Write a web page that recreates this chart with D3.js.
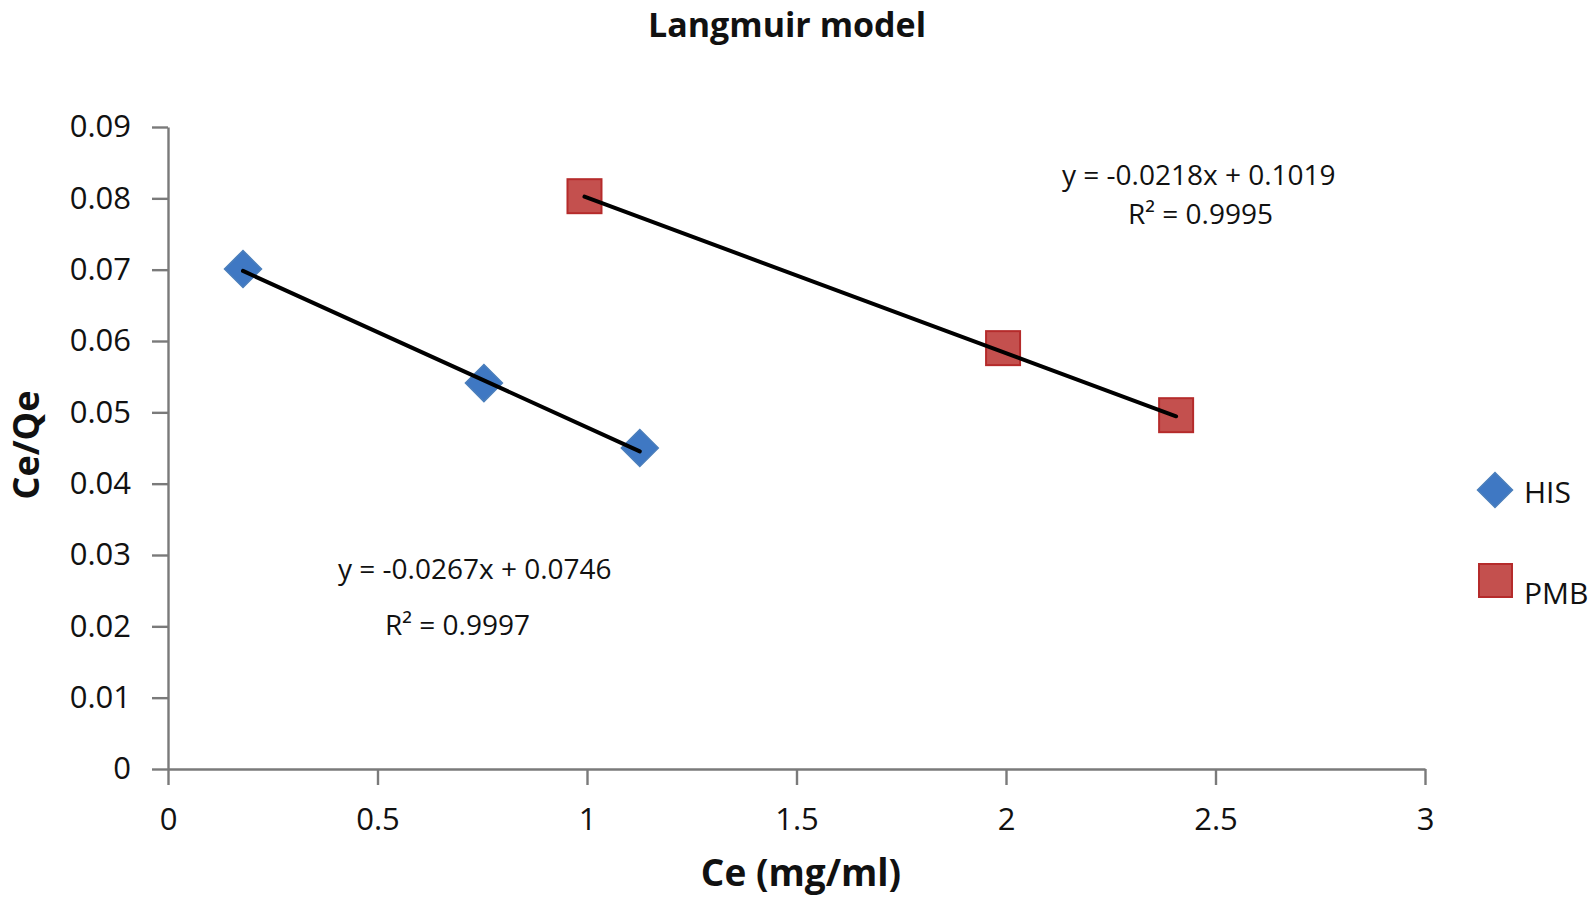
<!DOCTYPE html>
<html><head><meta charset="utf-8">
<script src="https://cdn.jsdelivr.net/npm/d3@7"></script>
<style>
html,body{margin:0;padding:0;background:#fff;}
svg{display:block;}
text{font-family:"Open Sans",sans-serif;fill:#111;}
</style></head>
<body>
<svg id="c" width="1594" height="900"></svg>
<script>
// ---- data ----
const seriesNames = ["HIS", "PMB"];
const hisX = [0.179, 0.754, 1.126];
const hisY = [0.0701, 0.0541, 0.0450];
const pmbX = [0.994, 1.993, 2.406];
const pmbY = [0.0803, 0.0590, 0.0496];
const fitSlopes = [-0.0267, -0.0218];
const fitIntercepts = [0.0746, 0.1019];
const fitEquations = ["y = -0.0267x + 0.0746", "y = -0.0218x + 0.1019"];
const fitR2 = ["R² = 0.9997", "R² = 0.9995"];
const xTicks = [0, 0.5, 1, 1.5, 2, 2.5, 3];
const yTicks = [0, 0.01, 0.02, 0.03, 0.04, 0.05, 0.06, 0.07, 0.08, 0.09];
const titleText = "Langmuir model";
const xTitle = "Ce (mg/ml)";
const yTitle = "Ce/Qe";

// ---- layout ----
const svg = d3.select("#c");
const x = d3.scaleLinear().domain([0, 3]).range([168, 1425]);
const y = d3.scaleLinear().domain([0, 0.09]).range([769, 127]);
const axisColor = "#7a7a7a";

svg.append("text").attr("x", 787).attr("y", 37).attr("text-anchor", "middle")
  .style("font-weight", "700").style("font-size", "34px").text(titleText);

const xAxis = d3.axisBottom(x).tickValues(xTicks).tickSize(16).tickSizeOuter(0).tickPadding(19)
  .tickFormat(d => d3.format("")(d));
const yAxis = d3.axisLeft(y).tickValues(yTicks).tickSize(16).tickSizeOuter(0).tickPadding(21)
  .tickFormat(d => d === 0 ? "0" : d3.format(".2f")(d));

const gx = svg.append("g").attr("transform", `translate(0,${y(0)})`).call(xAxis);
const gy = svg.append("g").attr("transform", `translate(${x(0)},0)`).call(yAxis);
[gx, gy].forEach(g => {
  g.selectAll("path.domain").attr("stroke", axisColor).attr("stroke-width", 2.4);
  g.selectAll(".tick line").attr("stroke", axisColor).attr("stroke-width", 2.4);
  g.selectAll(".tick text").style("font-family", "'Open Sans',sans-serif").style("font-size", "31px").attr("fill", "#111");
});
gx.selectAll(".tick text").attr("dy", "0.85em");

svg.append("text").attr("x", 801).attr("y", 886).attr("text-anchor", "middle")
  .style("font-weight", "700").style("font-size", "37px").text(xTitle);
svg.append("text").attr("transform", `translate(39,445) rotate(-90)`).attr("text-anchor", "middle")
  .style("font-weight", "700").style("font-size", "36px").text(yTitle);

// ---- markers ----
const blueFill = "#3F78C3", blueStroke = "#4A7EBB";
const redFill = "#C4504E", redStroke = "#B52B2B";
const diamond = r => `M0,${-r}L${r},0L0,${r}L${-r},0Z`;
const hisPts = hisX.map((v, i) => [v, hisY[i]]);
const pmbPts = pmbX.map((v, i) => [v, pmbY[i]]);
svg.append("g").selectAll("path").data(hisPts).join("path")
  .attr("transform", d => `translate(${x(d[0])},${y(d[1])})`)
  .attr("d", diamond(18.5)).attr("fill", blueFill).attr("stroke", blueStroke).attr("stroke-width", 1.5);
svg.append("g").selectAll("rect").data(pmbPts).join("rect")
  .attr("x", d => x(d[0]) - 17).attr("y", d => y(d[1]) - 17)
  .attr("width", 34).attr("height", 34)
  .attr("fill", redFill).attr("stroke", redStroke).attr("stroke-width", 2);

// ---- trendlines (drawn on top of markers) ----
[hisX, pmbX].forEach((xs, i) => {
  const x0 = d3.min(xs), x1 = d3.max(xs);
  svg.append("line")
    .attr("x1", x(x0)).attr("y1", y(fitSlopes[i] * x0 + fitIntercepts[i]))
    .attr("x2", x(x1)).attr("y2", y(fitSlopes[i] * x1 + fitIntercepts[i]))
    .attr("stroke", "#000").attr("stroke-width", 4).attr("stroke-linecap", "round");
});

// ---- equation labels ----
const eqPos = [[338, 579, 385, 635], [1062, 185, 1128, 224]];
eqPos.forEach((p, i) => {
  svg.append("text").attr("x", p[0]).attr("y", p[1]).style("font-size", "28px").attr("fill", "#222").text(fitEquations[i]);
  svg.append("text").attr("x", p[2]).attr("y", p[3]).style("font-size", "28px").attr("fill", "#222").text(fitR2[i]);
});

// ---- legend ----
const leg = svg.append("g");
leg.append("path").attr("transform", "translate(1495,490)").attr("d", diamond(17.5))
  .attr("fill", blueFill).attr("stroke", blueStroke).attr("stroke-width", 1.5);
leg.append("text").attr("x", 1524).attr("y", 503).style("font-size", "30px").text(seriesNames[0]);
leg.append("rect").attr("x", 1479).attr("y", 564).attr("width", 33).attr("height", 33)
  .attr("fill", redFill).attr("stroke", redStroke).attr("stroke-width", 2);
leg.append("text").attr("x", 1524).attr("y", 604).style("font-size", "30px").text(seriesNames[1]);
</script>
</body></html>
